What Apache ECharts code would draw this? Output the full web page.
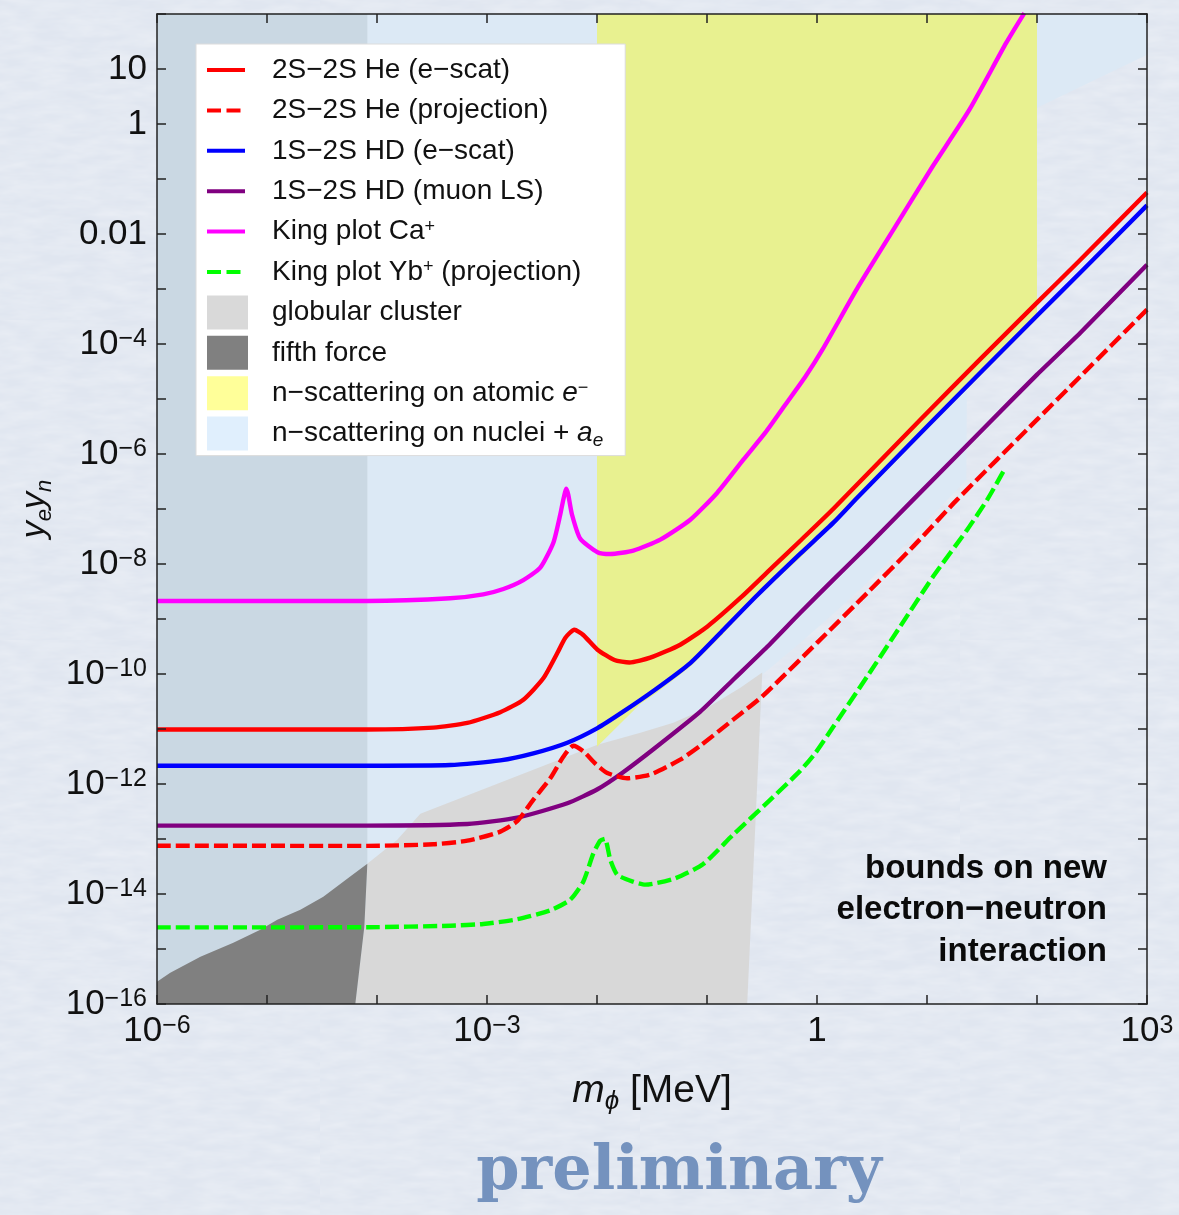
<!DOCTYPE html>
<html>
<head>
<meta charset="utf-8">
<script src="https://cdn.jsdelivr.net/npm/echarts@6/dist/echarts.min.js"></script>
<style>
  html, body { margin: 0; padding: 0; }
  body {
    background-color: #e0e6f0;
    background-image: url("data:image/svg+xml;utf8,<svg xmlns='http://www.w3.org/2000/svg' width='320' height='320'><filter id='n'><feTurbulence type='fractalNoise' baseFrequency='0.03 0.11' numOctaves='3' seed='7'/><feColorMatrix values='0 0 0 0 1  0 0 0 0 1  0 0 0 0 1  0 0 0 0.45 -0.12'/></filter><rect width='100%25' height='100%25' filter='url(%23n)'/></svg>");
  }
  #chart { width: 1179px; height: 1215px; }
</style>
</head>
<body>
<div id="chart"></div>
<script>
// Bounds on a new electron-neutron scalar interaction: y_e*y_n versus mediator mass m_phi [MeV]

// ---- exclusion curves (mass in MeV, coupling product) ----
const heScatM = [1e-6, 8.17e-5, 3.25e-4, 6.62e-4, 1.32e-3, 2.14e-3, 3.25e-3, 4.36e-3, 5.16e-3, 6.22e-3, 7.50e-3, 1.01e-2, 1.44e-2, 1.97e-2, 3.05e-2, 5.71e-2, 0.101, 0.201, 0.401, 0.705, 1.41, 8.69, 30.5, 100, 248, 1000];
const heScatY = [9.8e-12, 9.8e-12, 1.06e-11, 1.29e-11, 2.02e-11, 3.41e-11, 8.36e-11, 2.41e-10, 4.57e-10, 6.38e-10, 5.12e-10, 2.77e-10, 1.80e-10, 1.62e-10, 1.98e-10, 3.41e-10, 7.33e-10, 2.41e-9, 9.03e-9, 2.65e-8, 1.01e-7, 4.21e-6, 5.30e-5, 5.64e-4, 3.41e-3, 5.70e-2];

const heProjM = [1e-6, 8.17e-5, 3.25e-4, 6.62e-4, 1.32e-3, 1.88e-3, 2.64e-3, 3.76e-3, 4.94e-3, 6.10e-3, 7.50e-3, 9.66e-3, 1.24e-2, 1.88e-2, 3.05e-2, 5.71e-2, 8.69e-2, 0.173, 0.318, 1.01, 2.86, 7.50, 18.8, 100, 248, 1000];
const heProjY = [7.55e-14, 7.50e-14, 8.02e-14, 9.31e-14, 1.36e-13, 2.11e-13, 5.19e-13, 1.27e-12, 3.13e-12, 4.97e-12, 3.94e-12, 2.34e-12, 1.58e-12, 1.27e-12, 1.48e-12, 2.77e-12, 4.97e-12, 1.48e-11, 3.92e-11, 3.76e-10, 2.97e-9, 2.09e-8, 1.48e-7, 4.21e-6, 2.58e-5, 4.21e-4];

const hdScatM = [1e-6, 8.17e-5, 4.63e-4, 1.32e-3, 2.64e-3, 5.37e-3, 1.01e-2, 1.73e-2, 3.32e-2, 7.05e-2, 0.141, 0.286, 0.705, 1.41, 2.32, 10.7, 30.5, 100, 248, 1000];
const hdScatY = [2.15e-12, 2.15e-12, 2.21e-12, 2.69e-12, 3.61e-12, 5.64e-12, 1.04e-11, 2.07e-11, 5.07e-11, 1.58e-10, 6.38e-10, 2.7e-9, 1.54e-8, 5.64e-8, 1.60e-7, 3.63e-6, 3.01e-5, 3.27e-4, 2.00e-3, 3.31e-2];

const hdMuonM = [1e-6, 8.17e-5, 6.62e-4, 1.88e-3, 5.37e-3, 1.01e-2, 1.73e-2, 3.39e-2, 8.69e-2, 0.173, 0.353, 0.705, 1.41, 2.86, 7.50, 37.6, 100, 248, 1000];
const hdMuonY = [1.75e-13, 1.75e-13, 1.87e-13, 2.44e-13, 4.46e-13, 8.04e-13, 1.64e-12, 4.57e-12, 2.07e-11, 7.87e-11, 3.13e-10, 1.30e-9, 5.19e-9, 2.09e-8, 1.48e-7, 3.86e-6, 2.77e-5, 1.60e-4, 2.77e-3];

const caKingM = [1e-6, 8.17e-5, 4.63e-4, 9.25e-4, 1.41e-3, 2.14e-3, 3.05e-3, 4.01e-3, 4.63e-3, 4.94e-3, 5.26e-3, 5.48e-3, 5.93e-3, 7.05e-3, 1.01e-2, 1.32e-2, 2.14e-2, 3.76e-2, 7.05e-2, 0.124, 0.214, 0.339, 0.515, 0.783, 1.12, 2.37, 5.15, 11.2, 24.3, 52.6, 76.7];
const caKingY = [2.13e-9, 2.13e-9, 2.38e-9, 2.81e-9, 3.51e-9, 5.09e-9, 8.57e-9, 2.44e-8, 7.87e-8, 1.48e-7, 2.34e-7, 1.82e-7, 7.87e-8, 2.88e-8, 1.64e-8, 1.52e-8, 1.75e-8, 2.77e-8, 6.38e-8, 1.98e-7, 7.87e-7, 2.44e-6, 7.87e-6, 2.54e-5, 7.87e-5, 1.10e-3, 1.36e-2, 0.167, 1.82, 30.1, 104];

const ybKingM = [1e-6, 8.17e-5, 4.63e-4, 9.25e-4, 1.88e-3, 3.76e-3, 5.71e-3, 7.50e-3, 9.25e-3, 1.07e-2, 1.18e-2, 1.32e-2, 1.53e-2, 2.14e-2, 2.75e-2, 5.05e-2, 9.25e-2, 0.173, 0.353, 0.705, 0.966, 1.41, 2.86, 5.71, 11.4, 23.2, 35.3, 50.5];
const ybKingY = [2.47e-15, 2.49e-15, 2.65e-15, 2.85e-15, 3.47e-15, 5.04e-15, 7.87e-15, 1.67e-14, 5.41e-14, 9.31e-14, 1.01e-13, 4.21e-14, 2.24e-14, 1.67e-14, 1.48e-14, 1.90e-14, 3.51e-14, 1.20e-13, 4.57e-13, 1.75e-12, 3.66e-12, 1.11e-11, 9.03e-11, 7.33e-10, 5.96e-9, 4.21e-8, 1.48e-7, 5.19e-7];

// ---- excluded regions (polygon outlines, mass in MeV / coupling product) ----
const nucleiM = [1e-6, 1000, 1000, 100, 23.7, 22.8, 11.4, 5.71, 2.86, 1.41, 0.705, 0.318, 0.224, 1e-6];
const nucleiY = [100, 100, 18.2, 1.98, 0.519, 3.41e-7, 7.87e-8, 1.82e-8, 4.57e-9, 1.25e-9, 3.71e-10, 9.7e-11, 1e-16, 1e-16];

const fifthBandM = [1e-6, 8.17e-5, 8.17e-5, 1e-6];
const fifthBandY = [100, 100, 1e-16, 1e-16];

const fifthM = [1e-6, 1.32e-6, 2.48e-6, 4.94e-6, 8.69e-6, 1.24e-5, 2.01e-5, 3.25e-5, 5.71e-5, 8.17e-5, 7.67e-5, 6.35e-5, 1e-6];
const fifthY = [2.54e-16, 3.71e-16, 7.24e-16, 1.30e-15, 2.24e-15, 3.41e-15, 5.19e-15, 8.93e-15, 2.07e-14, 3.56e-14, 2.54e-15, 1e-16, 1e-16];

const globularM = [8.17e-5, 1.53e-4, 2.48e-4, 1.01e-2, 2.48e-2, 4.94e-2, 0.101, 0.201, 0.318, 0.232, 6.35e-5, 7.67e-5];
const globularY = [3.56e-14, 9.7e-14, 2.88e-13, 5.19e-12, 8.57e-12, 1.30e-11, 2.44e-11, 5.64e-11, 1.06e-10, 1e-16, 1e-16, 2.54e-15];

const atomicM = [1e-2, 100, 100, 30.5, 10.7, 2.32, 0.705, 0.286, 0.141, 7.05e-2, 3.39e-2, 2.48e-2, 1e-2];
const atomicY = [100, 100, 2.88e-4, 2.65e-5, 3.20e-6, 1.42e-7, 1.30e-8, 2.54e-9, 5.41e-10, 1.36e-10, 4.39e-11, 2.88e-11, 4.76e-12];

// ---- axes ----
const xTickVals = [1e-6, 1e-5, 1e-4, 1e-3, 1e-2, 1e-1, 1, 10, 100, 1000];
const xLabelVals = [1e-6, 1e-3, 1, 1000];
const yTickVals = [1e-16, 1e-15, 1e-14, 1e-13, 1e-12, 1e-11, 1e-10, 1e-9, 1e-8, 1e-7, 1e-6, 1e-5, 1e-4, 1e-3, 1e-2, 1e-1, 1, 10, 100];
const yLabelVals = [1e-16, 1e-14, 1e-12, 1e-10, 1e-8, 1e-6, 1e-4, 1e-2, 1, 10];

const FONT = '"Liberation Sans", Arial, Helvetica, sans-serif';
const INK = '#111';

const zip = (a, b) => a.map((v, i) => [v, b[i]]);

// legend icons: a 41x34 box holding a 4px solid bar or two dashes
const ICON_SOLID = 'path://M0,15H38V19H0Z M0,0 M41,34';
const ICON_DASH = 'path://M0,15H14V19H0Z M19.5,15H33.5V19H19.5Z M0,0 M41,34';

// legend names
const N_HE = '2S\u22122S He (e\u2212scat)';
const N_HEP = '2S\u22122S He (projection)';
const N_HD = '1S\u22122S HD (e\u2212scat)';
const N_HDM = '1S\u22122S HD (muon LS)';
const N_CA = 'King plot Ca+';
const N_YB = 'King plot Yb+ (projection)';
const N_GC = 'globular cluster';
const N_FF = 'fifth force';
const N_AT = 'n\u2212scattering on atomic e\u2212';
const N_NU = 'n\u2212scattering on nuclei + ae';

const legendRich = {
  [N_HE]: '{n|' + N_HE + '}',
  [N_HEP]: '{n|' + N_HEP + '}',
  [N_HD]: '{n|' + N_HD + '}',
  [N_HDM]: '{n|' + N_HDM + '}',
  [N_CA]: '{n|King plot Ca}{sup|+}',
  [N_YB]: '{n|King plot Yb}{sup|+}{n| (projection)}',
  [N_GC]: '{n|globular cluster}',
  [N_FF]: '{n|fifth force}',
  [N_AT]: '{n|n\u2212scattering on atomic }{it|e}{sup|\u2212}',
  [N_NU]: '{n|n\u2212scattering on nuclei + }{it|a}{sub|e}'
};

function powLabel(v) {
  const e = Math.round(Math.log10(v));
  if (e === 0) return '{b|1}';
  if (e === 1) return '{b|10}';
  if (e === -2) return '{b|0.01}';
  const exp = (e < 0 ? '\u2212' : '') + Math.abs(e);
  if (e === -16) return '{bl|10}{sl|' + exp + '}';
  return '{b|10}{s|' + exp + '}';
}

const labelRich = {
  b: { fontSize: 35, lineHeight: 35, verticalAlign: 'top', fontFamily: FONT, color: INK },
  s: { fontSize: 25, lineHeight: 25, verticalAlign: 'top', fontFamily: FONT, color: INK },
  bl: { fontSize: 35, lineHeight: 35, verticalAlign: 'top', padding: [0, 0, 18, 0], fontFamily: FONT, color: INK },
  sl: { fontSize: 25, lineHeight: 25, verticalAlign: 'top', padding: [0, 0, 18, 0], fontFamily: FONT, color: INK }
};

const tickStyle = { color: '#222', width: 1.5 };
const lineAxis = { show: true, onZero: false, lineStyle: { color: '#222', width: 1.5 } };

function makeAxis(kind, pos, withLabels, extra) {
  const isX = kind === 'x';
  return Object.assign({
    type: 'log',
    logBase: 10,
    min: isX ? 1e-6 : 1e-16,
    max: isX ? 1e3 : 1e2,
    position: pos,
    z: 8,
    axisLine: lineAxis,
    axisTick: { show: true, inside: true, length: 9, lineStyle: tickStyle, customValues: isX ? xTickVals : yTickVals },
    minorTick: { show: false },
    splitLine: { show: false },
    axisLabel: withLabels ? {
      show: true,
      customValues: isX ? xLabelVals : yLabelVals,
      formatter: powLabel,
      rich: labelRich,
      margin: 10,
      hideOverlap: false
    } : { show: false },
    axisPointer: { show: false }
  }, extra || {});
}

function regionSeries(name, polys, legendColor) {
  return {
    type: 'custom',
    name: name,
    coordinateSystem: 'cartesian2d',
    xAxisIndex: 0,
    yAxisIndex: 0,
    silent: true,
    z: 1,
    itemStyle: { color: legendColor },
    data: [polys[0].pts[0]],
    renderItem: function (params, api) {
      return {
        type: 'group',
        children: polys.map(p => ({
          type: 'polygon',
          shape: { points: p.pts.map(q => api.coord(q)) },
          style: { fill: p.fill }
        }))
      };
    }
  };
}

function curveSeries(name, m, y, color, dashed) {
  return {
    type: 'line',
    name: name,
    data: zip(m, y),
    xAxisIndex: 0,
    yAxisIndex: 0,
    symbol: 'none',
    showSymbol: false,
    smooth: 0.2,
    clip: true,
    z: 3,
    silent: true,
    itemStyle: { color: color },
    lineStyle: { color: color, width: 4.4, type: dashed ? [14, 5] : 'solid', cap: 'butt', join: 'round' }
  };
}

const chart = echarts.init(document.getElementById('chart'), null, { renderer: 'canvas' });

const option = {
  animation: false,
  backgroundColor: 'transparent',
  grid: { left: 157, top: 14, width: 990, height: 990, containLabel: false, outerBoundsMode: 'none' },
  tooltip: { show: false },
  legend: {
    show: true,
    orient: 'vertical',
    left: 196,
    top: 44,
    padding: [9, 22, 5, 11],
    itemWidth: 41,
    itemHeight: 34,
    itemGap: 6.4,
    symbolKeepAspect: true,
    backgroundColor: '#ffffff',
    borderColor: '#dcdcdc',
    borderWidth: 1,
    borderRadius: 0,
    selectedMode: false,
    z: 10,
    formatter: name => legendRich[name] || name,
    textStyle: {
      fontFamily: FONT,
      fontSize: 28,
      color: INK,
      padding: [0, 0, 0, 19],
      rich: {
        n: { fontSize: 28, lineHeight: 28, verticalAlign: 'top', fontFamily: FONT, color: INK },
        it: { fontSize: 28, lineHeight: 28, verticalAlign: 'top', fontFamily: FONT, fontStyle: 'italic', color: INK },
        sup: { fontSize: 18, lineHeight: 18, verticalAlign: 'top', fontFamily: FONT, color: INK },
        sub: { fontSize: 19, lineHeight: 19, verticalAlign: 'top', padding: [12, 0, 0, 0], fontFamily: FONT, fontStyle: 'italic', color: INK }
      }
    },
    data: [
      { name: N_HE, icon: ICON_SOLID },
      { name: N_HEP, icon: ICON_DASH },
      { name: N_HD, icon: ICON_SOLID },
      { name: N_HDM, icon: ICON_SOLID },
      { name: N_CA, icon: ICON_SOLID },
      { name: N_YB, icon: ICON_DASH },
      { name: N_GC, icon: 'rect', itemStyle: { color: '#d9d9d9' } },
      { name: N_FF, icon: 'rect', itemStyle: { color: '#808080' } },
      { name: N_AT, icon: 'rect', itemStyle: { color: '#ffff99' } },
      { name: N_NU, icon: 'rect', itemStyle: { color: '#e0effd' } }
    ]
  },
  xAxis: [
    makeAxis('x', 'bottom', true, {
      name: '{i|m}{sub|\u03d5}{n| [MeV]}',
      nameLocation: 'middle',
      nameGap: 68,
      nameMoveOverlap: false,
      nameTextStyle: {
        rich: {
          i: { fontSize: 39, lineHeight: 39, verticalAlign: 'top', fontStyle: 'italic', fontFamily: FONT, color: INK },
          sub: { fontSize: 26, lineHeight: 26, verticalAlign: 'top', padding: [17, 0, 0, 0], fontStyle: 'italic', fontFamily: FONT, color: INK },
          n: { fontSize: 39, lineHeight: 39, verticalAlign: 'top', fontFamily: FONT, color: INK }
        }
      }
    }),
    makeAxis('x', 'top', false)
  ],
  yAxis: [
    makeAxis('y', 'left', true, {
      name: '{i|y}{sub|e}{i|y}{sub|n}',
      nameLocation: 'middle',
      nameGap: 105,
      nameMoveOverlap: false,
      nameTextStyle: {
        rich: {
          i: { fontSize: 34, lineHeight: 34, verticalAlign: 'top', fontStyle: 'italic', fontFamily: FONT, color: INK },
          sub: { fontSize: 22, lineHeight: 22, verticalAlign: 'top', padding: [16, 0, 0, 0], fontStyle: 'italic', fontFamily: FONT, color: INK }
        }
      }
    }),
    makeAxis('y', 'right', false)
  ],
  series: [
    regionSeries(N_NU, [{ pts: zip(nucleiM, nucleiY), fill: '#dce9f5' }], '#e0effd'),
    regionSeries('fifth force, low-mass band', [{ pts: zip(fifthBandM, fifthBandY), fill: '#cad8e3' }], '#cad8e3'),
    regionSeries(N_GC, [{ pts: zip(globularM, globularY), fill: '#d8d8d8' }], '#d9d9d9'),
    regionSeries(N_AT, [{ pts: zip(atomicM, atomicY), fill: '#e8f190' }], '#ffff99'),
    regionSeries(N_FF, [{ pts: zip(fifthM, fifthY), fill: '#808080' }], '#808080'),
    curveSeries(N_CA, caKingM, caKingY, '#ff00ff', false),
    curveSeries(N_HE, heScatM, heScatY, '#ff0000', false),
    curveSeries(N_HD, hdScatM, hdScatY, '#0000ff', false),
    curveSeries(N_HDM, hdMuonM, hdMuonY, '#800080', false),
    curveSeries(N_HEP, heProjM, heProjY, '#ff0000', true),
    curveSeries(N_YB, ybKingM, ybKingY, '#00ff00', true)
  ],
  graphic: [
    {
      type: 'text',
      x: 1107,
      y: 848,
      z: 20,
      silent: true,
      style: {
        text: 'bounds on new\nelectron\u2212neutron\ninteraction',
        font: 'bold 33px ' + FONT,
        fill: '#0a0a0a',
        align: 'right',
        verticalAlign: 'top',
        lineHeight: 41.5
      }
    },
    {
      type: 'text',
      x: 679,
      y: 1142,
      z: 20,
      silent: true,
      style: {
        text: 'preliminary',
        font: 'bold 62px "DejaVu Serif", "Liberation Serif", serif',
        fill: '#7492be',
        align: 'center',
        verticalAlign: 'top'
      }
    }
  ]
};

chart.setOption(option);
</script>
</body>
</html>
